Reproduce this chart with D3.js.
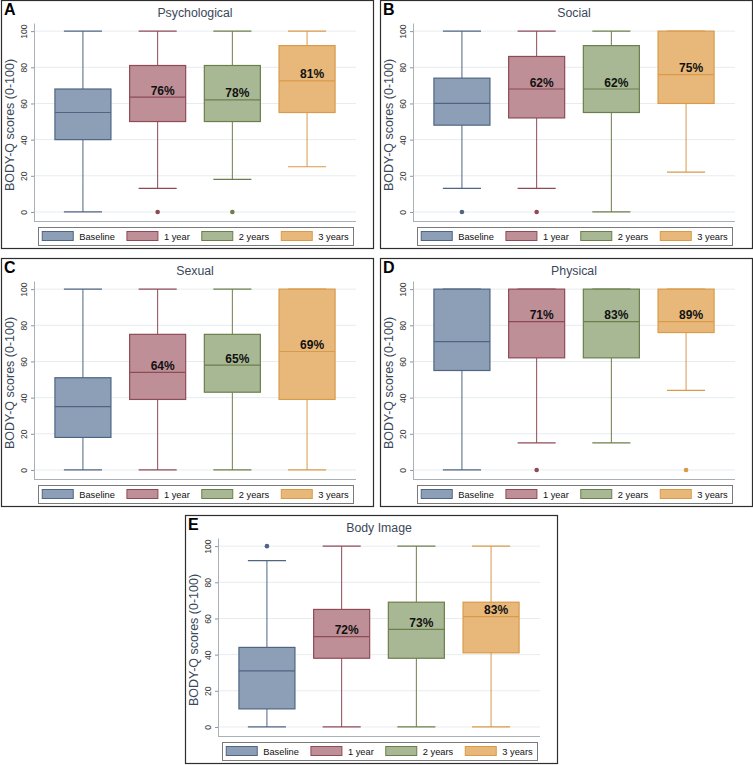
<!DOCTYPE html>
<html>
<head>
<meta charset="utf-8">
<script src="https://cdn.jsdelivr.net/npm/d3@7/dist/d3.min.js"></script>
<style>
  html, body { margin: 0; padding: 0; background: #fff; }
  svg { display: block; font-family: "Liberation Sans", Arial, sans-serif; }
</style>
</head>
<body>
<svg id="chart" width="753" height="765"></svg>
<script>
// ---------- data ----------
const groups = ["Baseline", "1 year", "2 years", "3 years"];
const panelLetters = ["A", "B", "C", "D", "E"];
const panelTitles = ["Psychological", "Social", "Sexual", "Physical", "Body Image"];
const yTicks = [0, 20, 40, 60, 80, 100];

const whiskerLow  = [[0, 13, 18, 25], [13, 13, 0, 22], [0, 0, 0, 0], [0, 15, 15, 44], [0, 0, 0, 0]];
const q1Values    = [[40, 50, 50, 55], [48, 52, 55, 60], [18, 39, 43, 39], [55, 62, 62, 76], [10, 38, 38, 41]];
const medians     = [[55, 63.5, 62, 72.5], [60, 68, 68, 76], [35, 54, 58, 65.5], [71, 82, 82, 82], [31, 50, 54, 61]];
const q3Values    = [[68, 81, 81, 92], [74, 86, 92, 100], [51, 75, 75, 100], [100, 100, 100, 100], [44, 65, 69, 69]];
const whiskerHigh = [[100, 100, 100, 100], [100, 100, 100, 100], [100, 100, 100, 100], [100, 100, 100, 100], [92, 100, 100, 100]];
const outliers    = [[[], [0], [0], []], [[0], [0], [], []], [[], [], [], []], [[], [0], [], [0]], [[100], [], [], []]];
const pctLabels   = [["", "76%", "78%", "81%"], ["", "62%", "62%", "75%"], ["", "64%", "65%", "69%"], ["", "71%", "83%", "89%"], ["", "72%", "73%", "83%"]];

// ---------- styling ----------
const fills   = ["#8d9fb7", "#be8f96", "#a8b894", "#e8b87a"];
const strokes = ["#4f6583", "#8e4b57", "#6c7e4b", "#d99a4a"];
const panelOrigins = [[1, 0], [380, 0], [1, 258], [380, 258], [185, 515]];
const PW = 372, PH = 248;
const plot = { left: 33, right: 355, top: 23, bottom: 221 };
const textColor = "#3b4859";

const svg = d3.select("#chart");

const x = d3.scaleBand().domain(groups).range([plot.left, plot.right]).paddingInner(0).paddingOuter(0.155);
const y = d3.scaleLinear().domain([-5, 104.5]).range([plot.bottom, plot.top]);
const step = x.step();
const boxW = step * 0.75;
const capW = step * 0.51;

panelOrigins.forEach((o, p) => {
  const g = svg.append("g").attr("transform", `translate(${o[0]},${o[1]})`);

  g.append("rect").attr("x", 0.5).attr("y", 0.5).attr("width", PW).attr("height", PH)
    .attr("fill", "#fff").attr("stroke", "#2e2e2e").attr("stroke-width", 1.2);

  // letter
  g.append("text").attr("x", 3).attr("y", 15).attr("font-size", 16).attr("font-weight", "bold")
    .attr("fill", "#000").text(panelLetters[p]);

  // title
  g.append("text").attr("x", (plot.left + plot.right) / 2).attr("y", 17).attr("text-anchor", "middle")
    .attr("font-size", 12.3).attr("fill", textColor).text(panelTitles[p]);

  // gridlines
  g.append("g").selectAll("line").data(yTicks).join("line")
    .attr("x1", plot.left).attr("x2", plot.right)
    .attr("y1", d => y(d)).attr("y2", d => y(d))
    .attr("stroke", "#e6ecf0").attr("stroke-width", 1);

  // y axis
  const ya = g.append("g").attr("transform", `translate(${plot.left},0)`)
    .call(d3.axisLeft(y).tickValues(yTicks).tickSize(3).tickPadding(4).tickSizeOuter(0));
  ya.select(".domain").attr("stroke", "#a9b1b8");
  ya.selectAll(".tick line").attr("stroke", "#8c959c");
  ya.selectAll(".tick text")
    .attr("font-size", 8.6).attr("fill", "#3a3a3a").attr("font-family", "Liberation Sans, Arial, sans-serif")
    .attr("transform", "rotate(-90)").attr("x", 0).attr("y", -7).attr("dy", "0").attr("text-anchor", "middle");

  // x axis line
  g.append("line").attr("x1", plot.left).attr("x2", plot.right)
    .attr("y1", plot.bottom + 0.5).attr("y2", plot.bottom + 0.5).attr("stroke", "#a9b1b8");

  // y axis title
  g.append("text").attr("transform", `translate(12.5,${(plot.top + plot.bottom) / 2 + 3}) rotate(-90)`)
    .attr("text-anchor", "middle").attr("font-size", 12.5).attr("fill", textColor)
    .text("BODY-Q scores (0-100)");

  // boxes
  groups.forEach((grp, i) => {
    const cx = x(grp) + step / 2;
    const col = strokes[i];
    const bg = g.append("g");
    bg.append("line").attr("x1", cx).attr("x2", cx).attr("y1", y(q3Values[p][i])).attr("y2", y(whiskerHigh[p][i]))
      .attr("stroke", col).attr("stroke-width", 1);
    bg.append("line").attr("x1", cx).attr("x2", cx).attr("y1", y(q1Values[p][i])).attr("y2", y(whiskerLow[p][i]))
      .attr("stroke", col).attr("stroke-width", 1);
    bg.append("line").attr("x1", cx - capW / 2).attr("x2", cx + capW / 2)
      .attr("y1", y(whiskerHigh[p][i])).attr("y2", y(whiskerHigh[p][i])).attr("stroke", col).attr("stroke-width", 1.2);
    bg.append("line").attr("x1", cx - capW / 2).attr("x2", cx + capW / 2)
      .attr("y1", y(whiskerLow[p][i])).attr("y2", y(whiskerLow[p][i])).attr("stroke", col).attr("stroke-width", 1.2);
    bg.append("rect").attr("x", cx - boxW / 2).attr("width", boxW)
      .attr("y", y(q3Values[p][i])).attr("height", y(q1Values[p][i]) - y(q3Values[p][i]))
      .attr("fill", fills[i]).attr("stroke", col).attr("stroke-width", 1.2);
    bg.append("line").attr("x1", cx - boxW / 2).attr("x2", cx + boxW / 2)
      .attr("y1", y(medians[p][i])).attr("y2", y(medians[p][i])).attr("stroke", col).attr("stroke-width", 1.2);
    bg.selectAll("circle").data(outliers[p][i]).join("circle")
      .attr("cx", cx).attr("cy", d => y(d)).attr("r", 2.3).attr("fill", col);
    if (pctLabels[p][i]) {
      bg.append("text").attr("x", cx + 5).attr("y", y(medians[p][i]) - 2.5).attr("text-anchor", "middle")
        .attr("font-size", 12).attr("font-weight", "bold").attr("fill", "#111").text(pctLabels[p][i]);
    }
  });

  // legend
  const lg = g.append("g");
  const L = { x: 37, y: 227, w: 315, h: 18 };
  lg.append("rect").attr("x", L.x + 0.5).attr("y", L.y + 0.5).attr("width", L.w).attr("height", L.h)
    .attr("fill", "#fff").attr("stroke", "#7a7a7a").attr("stroke-width", 1);
  const items = lg.selectAll("g.item").data(groups).join("g").attr("class", "item");
  items.append("rect").attr("width", 31).attr("height", 9).attr("y", L.y + 4.5)
    .attr("fill", (d, i) => fills[i]).attr("stroke", (d, i) => strokes[i]).attr("stroke-width", 1);
  items.append("text").attr("x", 37).attr("y", L.y + 12.8).attr("font-size", 9.3).attr("fill", "#111").text(d => d);
  const widths = [];
  items.each(function() { widths.push(37 + d3.select(this).select("text").node().getComputedTextLength()); });
  const gap = 12;
  const total = d3.sum(widths) + gap * (widths.length - 1);
  let cur = L.x + (L.w - total) / 2;
  items.each(function(d, i) { d3.select(this).attr("transform", `translate(${cur},0)`); cur += widths[i] + gap; });
});
</script>
</body>
</html>
